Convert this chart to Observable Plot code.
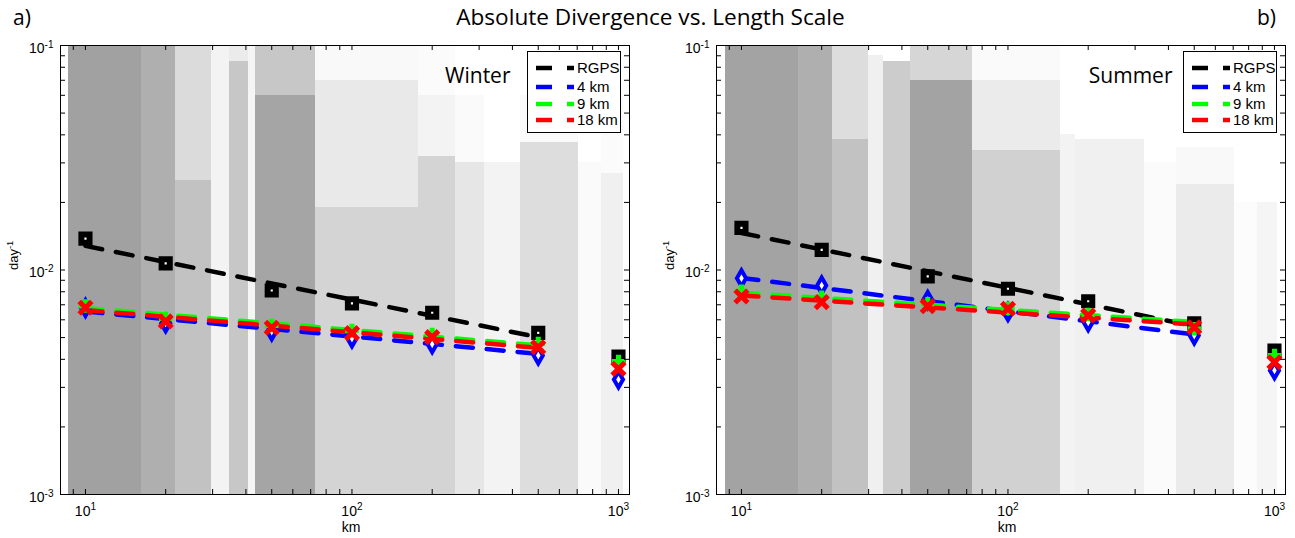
<!DOCTYPE html>
<html><head><meta charset="utf-8">
<script src="https://cdn.jsdelivr.net/npm/d3@7"></script>
<script src="https://cdn.jsdelivr.net/npm/@observablehq/plot@0.6"></script>
<style>
body{margin:0;background:#fff;}
#wrap{position:relative;width:1295px;height:538px;overflow:hidden;font-family:"Liberation Sans",Arial,sans-serif;}
.panel{position:absolute;top:0;}
.hd{position:absolute;font-family:"Open Sans","Noto Sans",sans-serif;color:#000;white-space:nowrap;line-height:1;}
.legend{position:absolute;top:51px;width:92px;height:80px;border:1px solid #000;background:#fff;}
.lrow{position:absolute;left:0;height:18px;width:92px;}
.lrow svg{position:absolute;left:0;top:0;}
.lrow span{position:absolute;left:49px;top:0;font-size:15px;line-height:18px;font-family:"Liberation Sans",Arial,sans-serif;}
</style></head>
<body><div id="wrap"></div>
<script>
// ---------- data ----------
const lengthScales = [10, 20, 50, 100, 200, 500, 1000];           // km
const seriesNames  = ["RGPS", "4 km", "9 km", "18 km"];
const seriesColors = ["#000000", "#0000ff", "#00ff00", "#ff0000"];

// mean absolute divergence (day^-1) at each length scale
const winterRGPS  = [0.0138, 0.0107, 0.0081, 0.0071, 0.00645, 0.00525, 0.00412];
const winter4km   = [0.00677, 0.00578, 0.00532, 0.00495, 0.00467, 0.00416, 0.00325];
const winter9km   = [0.00691, 0.00608, 0.00566, 0.00538, 0.00516, 0.00471, 0.00391];
const winter18km  = [0.00679, 0.00590, 0.00553, 0.00523, 0.00502, 0.00453, 0.00363];
const summerRGPS  = [0.0154, 0.0123, 0.00936, 0.00825, 0.00726, 0.00579, 0.00438];
const summer4km   = [0.00919, 0.00853, 0.00735, 0.00649, 0.00585, 0.00511, 0.00357];
const summer9km   = [0.00805, 0.00757, 0.00707, 0.00674, 0.00634, 0.00547, 0.00416];
const summer18km  = [0.00762, 0.00719, 0.00690, 0.00672, 0.00627, 0.00556, 0.00388];

// power-law fit lines (dashed), endpoints at 10 km and 500 km
const fitScales      = [10, 500];
const winterFitRGPS  = [0.01281, 0.00502];
const winterFit4km   = [0.00653, 0.00423];
const winterFit9km   = [0.00677, 0.00462];
const winterFit18km  = [0.00663, 0.00450];
const summerFitRGPS  = [0.01462, 0.00562];
const summerFit4km   = [0.00922, 0.00516];
const summerFit9km   = [0.00792, 0.00587];
const summerFit18km  = [0.00770, 0.00572];

// gray scatter cloud, summarised as bands: [km from, km to, value low, value high, share of area covered by dots]
const winterCloud = [
  [8.6, 16.2, 0.001, 0.1, 0.92], [16.2, 21.7, 0.001, 0.1, 0.78],
  [21.7, 29.8, 0.001, 0.025, 0.6], [21.7, 29.8, 0.025, 0.1, 0.35],
  [29.8, 34.8, 0.001, 0.1, 0.12], [34.8, 40.8, 0.001, 0.085, 0.55], [34.8, 40.8, 0.085, 0.1, 0.2],
  [40.8, 43.5, 0.001, 0.1, 0.1], [43.5, 73, 0.001, 0.06, 0.88], [43.5, 73, 0.06, 0.1, 0.55],
  [73, 178, 0.001, 0.019, 0.42], [73, 178, 0.019, 0.07, 0.22], [73, 178, 0.07, 0.1, 0.06],
  [178, 244, 0.001, 0.032, 0.42], [178, 244, 0.032, 0.06, 0.12], [178, 244, 0.06, 0.1, 0.04],
  [244, 313, 0.001, 0.03, 0.25], [244, 313, 0.03, 0.06, 0.05], [313, 428, 0.001, 0.03, 0.12],
  [428, 710, 0.001, 0.037, 0.33], [428, 710, 0.037, 0.06, 0.05],
  [710, 860, 0.001, 0.03, 0.05], [860, 1040, 0.001, 0.027, 0.15], [860, 1040, 0.027, 0.06, 0.04]
];
const summerCloud = [
  [8.7, 16.3, 0.001, 0.1, 0.9], [16.3, 22, 0.001, 0.1, 0.78],
  [22, 29.9, 0.001, 0.038, 0.6], [22, 29.9, 0.038, 0.1, 0.33],
  [29.9, 34, 0.001, 0.09, 0.15], [34, 43, 0.001, 0.085, 0.5],
  [43, 73.4, 0.001, 0.07, 0.9], [43, 73.4, 0.07, 0.1, 0.4],
  [73.4, 158, 0.001, 0.034, 0.45], [73.4, 158, 0.034, 0.07, 0.2], [73.4, 158, 0.07, 0.1, 0.05],
  [158, 179, 0.001, 0.04, 0.12], [179, 325, 0.001, 0.038, 0.15],
  [325, 430, 0.001, 0.03, 0.04], [430, 710, 0.001, 0.024, 0.2], [430, 710, 0.024, 0.035, 0.06],
  [710, 860, 0.001, 0.02, 0.03], [860, 1030, 0.001, 0.02, 0.1]
];

// ticks
const xMajor = [10, 100, 1000];
const xMinor = [9, 20, 30, 40, 50, 60, 70, 80, 90, 200, 300, 400, 500, 600, 700, 800, 900];
const yMajor = [0.001, 0.01, 0.1];
const yMinor = [0.002, 0.003, 0.004, 0.005, 0.006, 0.007, 0.008, 0.009, 0.02, 0.03, 0.04, 0.05, 0.06, 0.07, 0.08, 0.09];
const xLabels = ["10^1", "10^2", "10^3"];
const yLabels = ["10^-3", "10^-2", "10^-1"];

// ---------- drawing ----------
const shade = d3.interpolateRgb("#ffffff", "#999999");
const symbols = ["square", "diamond", "plus", "times"];
const symR = [4.6, 4.8, 4.4, 5.8];
const symW = [6, 4, 5, 5];
const symFill = ["white", "white", "none", "none"];

function fixText(svg) {
  d3.select(svg).selectAll("text").each(function () {
    const t = this.textContent;
    let size = 14, fam = "'Liberation Sans', Arial, sans-serif";
    if (t === "Winter" || t === "Summer") { size = 21; fam = "'Open Sans', sans-serif"; }
    else if (t.startsWith("day")) size = 13;
    this.style.fontSize = size + "px";
    this.style.fontFamily = fam;
    const i = t.indexOf("^");
    if (i < 0) return;
    const sel = d3.select(this);
    sel.text(null);
    sel.append("tspan").text(t.slice(0, i));
    sel.append("tspan").attr("dy", "-0.5em").style("font-size", "0.72em").text(t.slice(i + 1));
  });
}

function panel(cloud, values, fits, seasonLabel, labelDx) {
  const W = 640, H = 538, mL = 60, mR = 11, mT = 45, mB = 44;
  const iw = W - mL - mR, ih = H - mT - mB;
  const cloudRows = cloud.map(([k1, k2, lo, hi, c]) => ({k1, k2, lo, hi, c}));
  const fitRows = seriesNames.flatMap((s, i) => fitScales.map((k, j) => ({s, k, v: fits[i][j], color: seriesColors[i]})));
  const pointMarks = seriesNames.map((s, i) =>
    Plot.dot(lengthScales.map((k, j) => ({k, v: values[i][j]})), {
      x: "k", y: "v", symbol: symbols[i], r: symR[i], stroke: seriesColors[i],
      strokeWidth: symW[i], fill: symFill[i]
    }));
  const svg = Plot.plot({
    width: W, height: H, marginLeft: mL, marginRight: mR, marginTop: mT, marginBottom: mB,
    style: {fontFamily: "'Liberation Sans', Arial, sans-serif", background: "transparent", color: "black", overflow: "visible"},
    x: {type: "log", domain: [8.06, 1100], axis: null},
    y: {type: "log", domain: [1e-3, 1e-1], axis: null},
    marks: [
      Plot.rect(cloudRows, {x1: "k1", x2: "k2", y1: "lo", y2: "hi", fill: d => shade(d.c), shapeRendering: "crispEdges"}),
      Plot.line(fitRows, {x: "k", y: "v", z: "s", stroke: "color", strokeWidth: 4.5, strokeDasharray: "17,14"}),
      ...pointMarks,
      Plot.frame({stroke: "black", strokeWidth: 1}),
      Plot.tickX(xMajor.concat(xMinor), {x: d => d, insetTop: ih - 5, stroke: "black"}),
      Plot.tickX(xMajor.concat(xMinor), {x: d => d, insetBottom: ih - 5, stroke: "black"}),
      Plot.tickY(yMajor.concat(yMinor), {y: d => d, insetRight: iw - 5, stroke: "black"}),
      Plot.tickY(yMajor.concat(yMinor), {y: d => d, insetLeft: iw - 5, stroke: "black"}),
      Plot.text(xMajor, {x: d => d, text: (d, i) => xLabels[i], frameAnchor: "bottom", dy: 21, fill: "black"}),
      Plot.text(yMajor, {y: d => d, text: (d, i) => yLabels[i], frameAnchor: "left", dx: -7, dy: 3, textAnchor: "end", fill: "black"}),
      Plot.text(["km"], {frameAnchor: "bottom", dx: 6, dy: 37, fill: "black"}),
      Plot.text(["day^-1"], {frameAnchor: "left", rotate: -90, dx: -47, fill: "black"}),
      Plot.text([seasonLabel], {frameAnchor: "top-right", dx: labelDx, dy: 23, textAnchor: "end", fill: "black"})
    ]
  });
  fixText(svg);
  return svg;
}

function legend(left) {
  const div = document.createElement("div");
  div.className = "legend";
  div.style.left = left + "px";
  const rowsTop = [7, 25.5, 42.5, 59];
  seriesNames.forEach((name, i) => {
    const row = document.createElement("div");
    row.className = "lrow";
    row.style.top = rowsTop[i] + "px";
    row.innerHTML = `<svg width="48" height="18"><line x1="8" x2="24" y1="9" y2="9" stroke="${seriesColors[i]}" stroke-width="4.5"/><line x1="39" x2="46" y1="9" y2="9" stroke="${seriesColors[i]}" stroke-width="4.5"/></svg><span>${name}</span>`;
    div.appendChild(row);
  });
  return div;
}

const wrap = document.getElementById("wrap");
function place(el, left) { el.classList.add("panel"); el.style.left = left + "px"; wrap.appendChild(el); }

place(panel(winterCloud, [winterRGPS, winter4km, winter9km, winter18km],
  [winterFitRGPS, winterFit4km, winterFit9km, winterFit18km], "Winter", -119), 0);
place(panel(summerCloud, [summerRGPS, summer4km, summer9km, summer18km],
  [summerFitRGPS, summerFit4km, summerFit9km, summerFit18km], "Summer", -113), 656);
wrap.appendChild(legend(527));
wrap.appendChild(legend(1183));

function head(text, left, top, size, center) {
  const d = document.createElement("div");
  d.className = "hd"; d.textContent = text;
  d.style.top = top + "px"; d.style.fontSize = size + "px";
  if (center) { d.style.left = "0px"; d.style.width = "1295px"; d.style.textAlign = "center"; d.style.paddingLeft = "3px"; }
  else d.style.left = left + "px";
  wrap.appendChild(d);
}
head("Absolute Divergence vs. Length Scale", 0, 6, 22.6, true);
head("a)", 13, 7, 21, false);
head("b)", 1257, 7, 21, false);
</script>
</body></html>
